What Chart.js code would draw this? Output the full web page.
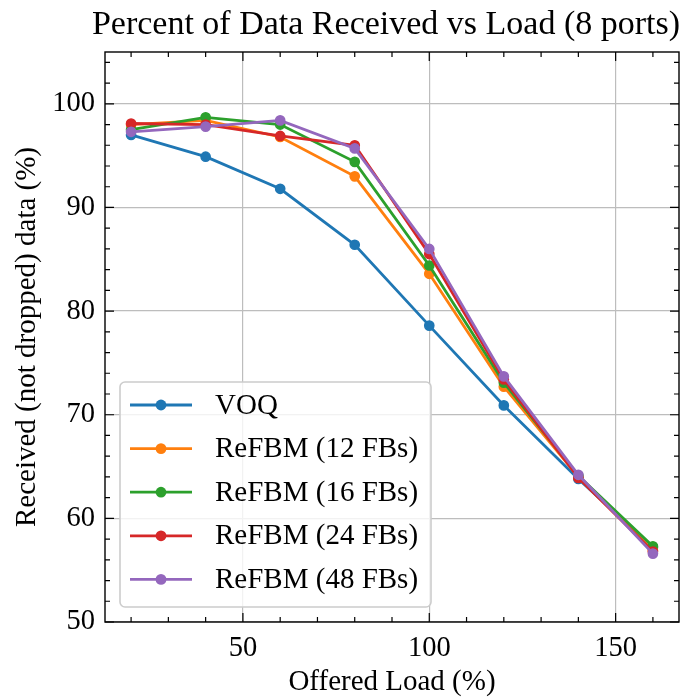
<!DOCTYPE html>
<html lang="en">
  <head>
    <meta charset="UTF-8" />
    <title>Percent of Data Received vs Load</title>
    <script src="https://cdn.jsdelivr.net/npm/chart.js"></script>
    <style>
      html,
      body {
        margin: 0;
        padding: 0;
        background: #fff;
      }
      #wrap {
        width: 696px;
        height: 700px;
      }
    </style>
  </head>
  <body>
    <div id="wrap"><canvas id="loadChart" width="696" height="700"></canvas></div>

    <script>
      // offered load (%)
      const loads = [20, 40, 60, 80, 100, 120, 140, 160];

      const seriesNames = [
        "VOQ",
        "ReFBM (12 FBs)",
        "ReFBM (16 FBs)",
        "ReFBM (24 FBs)",
        "ReFBM (48 FBs)",
      ];

      // received (not dropped) data, %
      const voq = [97.0, 94.9, 91.8, 86.4, 78.6, 70.9, 63.8, 57.2];
      const refbm12 = [98.0, 98.4, 96.8, 93.0, 83.6, 72.7, 64.0, 56.9];
      const refbm16 = [97.5, 98.7, 98.0, 94.4, 84.4, 73.1, 64.1, 57.3];
      const refbm24 = [98.1, 98.0, 96.9, 96.0, 85.5, 73.4, 63.9, 56.8];
      const refbm48 = [97.3, 97.8, 98.4, 95.7, 86.0, 73.7, 64.2, 56.6];

      const xTickValues = [50, 100, 150];
      const yTickValues = [50, 60, 70, 80, 90, 100];

      const colors = ["#1f77b4", "#ff7f0e", "#2ca02c", "#d62728", "#9467bd"];
      const FONT = "'Liberation Serif', 'Times New Roman', serif";

      const allSeries = [voq, refbm12, refbm16, refbm24, refbm48];

      const datasets = allSeries.map((vals, i) => ({
        label: seriesNames[i],
        data: loads.map((x, k) => ({ x: x, y: vals[k] })),
        borderColor: colors[i],
        backgroundColor: colors[i],
        pointBackgroundColor: colors[i],
        pointBorderColor: colors[i],
        borderWidth: 2.8,
        pointRadius: 4.6,
        pointBorderWidth: 1.5,
        tension: 0,
        // later series sit on top, like matplotlib
        order: allSeries.length - 1 - i,
      }));

      // title, frame, inward ticks (major + minor) and legend box
      const decor = {
        id: "decor",
        afterDraw(chart) {
          const { ctx, chartArea: ca, scales } = chart;
          const xs = scales.x;
          const ys = scales.y;
          ctx.save();

          // frame
          ctx.strokeStyle = "#000";
          ctx.lineWidth = 1.4;
          ctx.strokeRect(ca.left, ca.top, ca.right - ca.left, ca.bottom - ca.top);

          // ticks
          ctx.lineWidth = 1.2;
          ctx.beginPath();
          for (let v = 20; v <= 160; v += 10) {
            const len = v % 50 === 0 ? 9 : 5;
            const px = xs.getPixelForValue(v);
            ctx.moveTo(px, ca.bottom);
            ctx.lineTo(px, ca.bottom - len);
            ctx.moveTo(px, ca.top);
            ctx.lineTo(px, ca.top + len);
          }
          for (let v = 50; v <= 104; v += 2) {
            const len = v % 10 === 0 ? 9 : 5;
            const py = ys.getPixelForValue(v);
            ctx.moveTo(ca.left, py);
            ctx.lineTo(ca.left + len, py);
            ctx.moveTo(ca.right, py);
            ctx.lineTo(ca.right - len, py);
          }
          ctx.stroke();

          // title
          ctx.fillStyle = "#000";
          ctx.font = "34px " + FONT;
          ctx.textAlign = "center";
          ctx.textBaseline = "alphabetic";
          ctx.fillText(
            "Percent of Data Received vs Load (8 ports)",
            (ca.left + ca.right) / 2 - 6,
            34
          );

          // legend
          const bx = ca.left + 15;
          const bw = 311;
          const bh = 225;
          const by = ca.bottom - 15 - bh;
          ctx.beginPath();
          ctx.roundRect(bx, by, bw, bh, 5);
          ctx.fillStyle = "rgba(255,255,255,0.8)";
          ctx.fill();
          ctx.strokeStyle = "#cccccc";
          ctx.lineWidth = 1.6;
          ctx.stroke();

          ctx.font = "29px " + FONT;
          ctx.textAlign = "left";
          ctx.textBaseline = "middle";
          chart.data.datasets.forEach((ds, i) => {
            const cy = by + 23 + i * 43.6;
            ctx.strokeStyle = ds.borderColor;
            ctx.lineWidth = 2.8;
            ctx.beginPath();
            ctx.moveTo(bx + 10, cy);
            ctx.lineTo(bx + 72, cy);
            ctx.stroke();
            ctx.fillStyle = ds.borderColor;
            ctx.beginPath();
            ctx.arc(bx + 41, cy, 5.4, 0, Math.PI * 2);
            ctx.fill();
            ctx.fillStyle = "#000";
            ctx.fillText(ds.label, bx + 95, cy + 1);
          });

          ctx.restore();
        },
      };

      new Chart(document.getElementById("loadChart"), {
        type: "line",
        data: { datasets: datasets },
        plugins: [decor],
        options: {
          responsive: false,
          animation: false,
          layout: { padding: { top: 52, right: 17, left: 0, bottom: 0 } },
          plugins: {
            legend: { display: false },
            title: { display: false },
            tooltip: { enabled: false },
          },
          scales: {
            x: {
              type: "linear",
              min: 13,
              max: 167,
              afterBuildTicks: (s) => {
                s.ticks = xTickValues.map((v) => ({ value: v }));
              },
              afterFit: (s) => {
                s.height = 78;
              },
              grid: { color: "#bdbdbd", lineWidth: 1.2, drawTicks: false },
              border: { display: false },
              ticks: {
                color: "#000",
                padding: 9,
                font: { family: FONT, size: 28.5 },
                maxRotation: 0,
              },
              title: {
                display: true,
                text: "Offered Load (%)",
                color: "#000",
                font: { family: FONT, size: 29, lineHeight: 1.2 },
                padding: { top: 4, bottom: 0 },
              },
            },
            y: {
              type: "linear",
              min: 50,
              max: 105,
              afterBuildTicks: (s) => {
                s.ticks = yTickValues.map((v) => ({ value: v }));
              },
              afterFit: (s) => {
                s.width = 105;
              },
              grid: { color: "#bdbdbd", lineWidth: 1.2, drawTicks: false },
              border: { display: false },
              ticks: {
                color: "#000",
                padding: 10,
                font: { family: FONT, size: 28.5 },
              },
              title: {
                display: true,
                text: "Received (not dropped) data (%)",
                color: "#000",
                font: { family: FONT, size: 29, lineHeight: 1.2 },
                padding: { top: 10, bottom: 0 },
              },
            },
          },
        },
      });
    </script>
  </body>
</html>
